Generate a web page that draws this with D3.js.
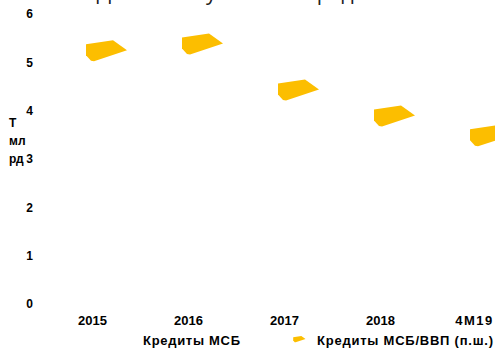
<!doctype html>
<html lang="ru">
<head>
<meta charset="utf-8">
<script src="https://d3js.org/d3.v7.min.js"></script>
<style>
  body { margin: 0; background: #fff; }
  svg { display: block; font-family: "Liberation Sans", Arial, sans-serif; }
</style>
</head>
<body>
<svg class="mainSVG" width="495" height="351"></svg>
<script>
  // data
  var categories = ["2015", "2016", "2017", "2018", "4М19"];
  var ratioValues = [5.25, 5.39, 4.44, 3.90, 3.49];
  var yTicks = [0, 1, 2, 3, 4, 5, 6];
  var titleText = "Динамика у банков: кредиты МСБ";
  var legendNames = ["Кредиты МСБ", "Кредиты МСБ/ВВП (п.ш.)"];

  var svg = d3.select(".mainSVG");
  var yellow = "#FCBE00";

  var x = d3.scalePoint().domain(categories).range([92, 476]);
  var y = d3.scaleLinear().domain([0, 6]).range([304, 14]);

  // title, almost all of it cut off at the top
  svg.append("text").attr("x", 270).attr("y", 0).attr("text-anchor", "middle")
    .attr("font-family", "Open Sans, sans-serif").attr("font-size", 21).attr("fill", "#222")
    .text(titleText);

  // y axis labels
  var yAxis = d3.axisLeft(y).tickValues(yTicks).tickFormat(d3.format("d")).tickSize(0).tickPadding(0);
  var gy = svg.append("g").attr("transform", "translate(33,0)").call(yAxis);
  gy.select(".domain").remove();
  gy.selectAll("text").attr("font-size", 12).attr("font-weight", "bold").attr("fill", "#000")
    .attr("font-family", "Liberation Sans, Arial, sans-serif");

  // y title broken over three lines
  var yTitle = svg.append("text").attr("font-size", 12).attr("font-weight", "bold").attr("fill", "#000");
  ["Т", "мл", "рд"].forEach(function(t, i) {
    yTitle.append("tspan").attr("x", 9).attr("y", 127 + i * 18).text(t);
  });

  // x axis labels
  var xAxis = d3.axisBottom(x).tickSize(0).tickPadding(0);
  var gx = svg.append("g").attr("transform", "translate(0,316)").call(xAxis);
  gx.select(".domain").remove();
  gx.selectAll("text").attr("font-size", 13).attr("font-weight", "bold").attr("fill", "#000")
    .attr("font-family", "Liberation Sans, Arial, sans-serif")
    .attr("letter-spacing", function(d) { return d === "4М19" ? 1.5 : 0; })
    .attr("dx", function(d) { return d === "4М19" ? -2 : 0; });

  // marker shape, relative to the point
  function markerPath(s) {
    var pts = [[-6, -6], [21, -10], [35, 0], [2, 11], [-1, 10.5], [-6, 5]];
    return "M" + pts.map(function(p) { return (p[0] * s) + "," + (p[1] * s); }).join("L") + "Z";
  }

  svg.append("g").selectAll("path").data(ratioValues).enter().append("path")
    .attr("d", markerPath(1))
    .attr("transform", function(d, i) { return "translate(" + x(categories[i]) + "," + y(d) + ")"; })
    .attr("fill", yellow);

  // legend
  var lg = svg.append("g").attr("font-size", 13).attr("font-weight", "bold").attr("fill", "#000");
  lg.append("text").attr("x", 143).attr("y", 345).attr("textLength", 97).attr("lengthAdjust", "spacing")
    .text(legendNames[0]);
  lg.append("path").attr("d", markerPath(0.3)).attr("transform", "translate(295,339)").attr("fill", yellow);
  lg.append("text").attr("x", 317).attr("y", 345).attr("textLength", 176).attr("lengthAdjust", "spacing")
    .text(legendNames[1]);
</script>
</body>
</html>
